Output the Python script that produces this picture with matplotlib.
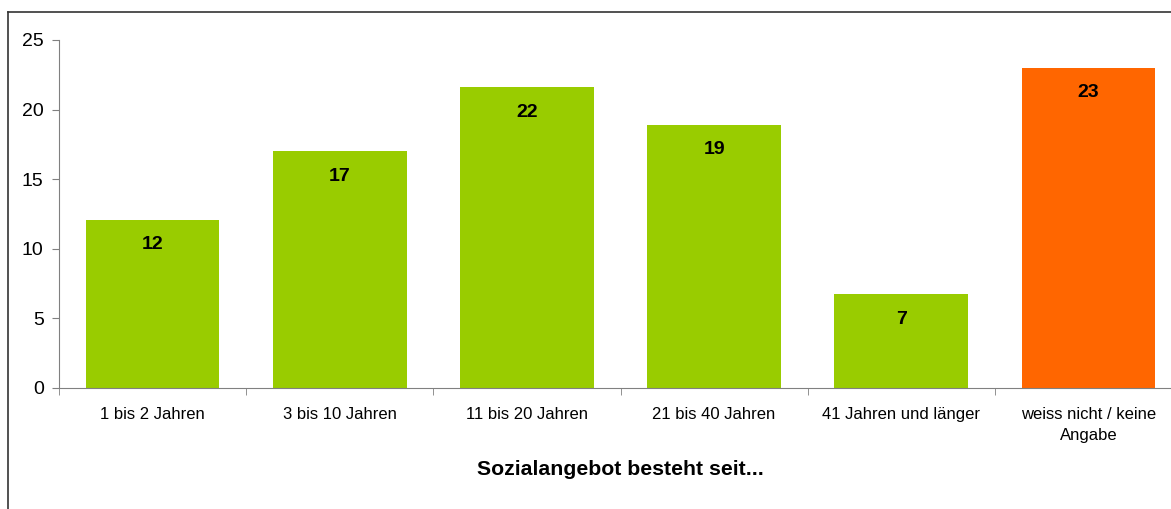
import matplotlib.pyplot as plt
from matplotlib.lines import Line2D
import numpy as np

plt.rcParams['font.family'] = ['Liberation Sans', 'DejaVu Sans']

# Dauer des Sozialangebots (Anteile in %)
categories = ['1 bis 2 Jahren', '3 bis 10 Jahren', '11 bis 20 Jahren',
              '21 bis 40 Jahren', '41 Jahren und länger',
              'weiss nicht / keine\nAngabe']
values = [12.1, 17.0, 21.6, 18.9, 6.75, 23.0]
labels = ['12', '17', '22', '19', '7', '23']
colors = ['#99CC00', '#99CC00', '#99CC00', '#99CC00', '#99CC00', '#FF6600']

W, H = 1171, 509
fig = plt.figure(figsize=(W / 100, H / 100), dpi=100)

# chart frame (only left and top edge visible in the crop)
fig.add_artist(Line2D([8 / W, 8 / W], [-0.1, 1 - 12 / H], color='#333333',
                      lw=1.2, transform=fig.transFigure))
fig.add_artist(Line2D([8 / W, 1.1], [1 - 12 / H, 1 - 12 / H], color='#333333',
                      lw=1.2, transform=fig.transFigure))

ax = fig.add_axes([59 / W, 1 - 388 / H, (1182 - 59) / W, 348 / H])
x = np.arange(len(categories))
bars = ax.bar(x, values, width=0.715, color=colors, zorder=1)

for b, lab in zip(bars, labels):
    ax.annotate(lab, (b.get_x() + b.get_width() / 2, b.get_height()),
                xytext=(0, -18), textcoords='offset points',
                ha='center', va='center', fontsize=14, fontweight='bold')

ax.set_xlim(-0.5, len(categories) - 0.5)
ax.set_ylim(0, 25)
ax.set_yticks(range(0, 26, 5))
ax.tick_params(axis='y', labelsize=14, length=5, color='#808080', pad=6)

ax.set_xticks(x)
ax.set_xticklabels(categories, fontsize=12, linespacing=1.5)
ax.set_xticks(np.arange(-0.5, len(categories), 1), minor=True)
ax.tick_params(axis='x', which='major', length=0, pad=14)
ax.tick_params(axis='x', which='minor', length=5, color='#808080')

for side in ['top', 'right']:
    ax.spines[side].set_visible(False)
for side in ['left', 'bottom']:
    ax.spines[side].set_color('#808080')
    ax.spines[side].set_zorder(3)

ax.text(0.5, -0.235, 'Sozialangebot besteht seit...', transform=ax.transAxes,
        ha='center', va='center', fontsize=15.3, fontweight='bold')

fig.savefig('out.png', dpi=100)
